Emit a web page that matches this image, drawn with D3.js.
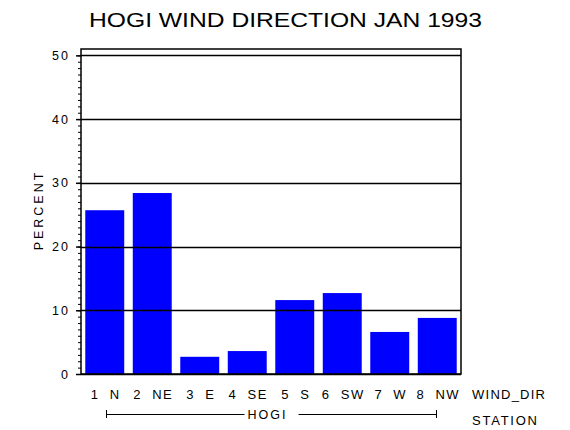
<!DOCTYPE html>
<html>
<head>
<meta charset="utf-8">
<script src="https://cdn.jsdelivr.net/npm/d3@7"></script>
<style>
  body { margin: 0; background: #fff; }
  text { font-family: "Liberation Sans", "DejaVu Sans", sans-serif; fill: #000; }
</style>
</head>
<body>
<div id="chart"></div>
<script>
// data
var dirs = ["1 N", "2 NE", "3 E", "4 SE", "5 S", "6 SW", "7 W", "8 NW"];
var percent = [25.7, 28.4, 2.7, 3.6, 11.6, 12.7, 6.6, 8.8];
var yTicks = [0, 10, 20, 30, 40, 50];
var station = "HOGI";
var title = "HOGI WIND DIRECTION JAN 1993";

var margin = {top: 49, right: 109, bottom: 56, left: 81},
    width = 570 - margin.left - margin.right,
    height = 430 - margin.top - margin.bottom;

var data = dirs.map(function(d, i) { return {label: d, value: percent[i]}; });

var x = d3.scaleBand()
    .domain(dirs)
    .range([0, width])
    .paddingInner(0.18)
    .paddingOuter(0.09);

var y = d3.scaleLinear()
    .domain([0, 51])
    .range([height, 0]);

var root = d3.select("#chart").append("svg")
    .attr("width", 570)
    .attr("height", 430);

root.append("text")
    .attr("x", 89)
    .attr("y", 27)
    .attr("textLength", 393)
    .attr("lengthAdjust", "spacingAndGlyphs")
    .style("font-size", "21px")
    .text(title);

var svg = root.append("g")
    .attr("transform", "translate(" + margin.left + "," + margin.top + ")");

// bars
svg.selectAll(".bars")
    .data(data)
  .enter().append("rect")
    .attr("class", "bars")
    .attr("x", function(d) { return x(d.label); })
    .attr("y", function(d) { return y(d.value); })
    .attr("width", x.bandwidth())
    .attr("height", function(d) { return height - y(d.value); })
    .attr("fill", "#0000ff");

// grid lines over the bars
svg.selectAll(".grid")
    .data(yTicks)
  .enter().append("line")
    .attr("x1", 0)
    .attr("x2", width)
    .attr("y1", function(d) { return Math.round(y(d)) + 0.5; })
    .attr("y2", function(d) { return Math.round(y(d)) + 0.5; })
    .attr("stroke", "#000")
    .attr("stroke-width", 1.3);

// frame
svg.append("rect")
    .attr("x", 0)
    .attr("y", 0)
    .attr("width", width)
    .attr("height", height)
    .attr("fill", "none")
    .attr("stroke", "#000")
    .attr("stroke-width", 1.5);

// minor ticks
svg.append("g")
    .call(d3.axisLeft(y).tickValues(d3.range(0, 51)).tickSize(3).tickFormat(""))
    .call(function(g) { g.select(".domain").remove(); });

// major ticks and labels
var yAxis = svg.append("g")
    .call(d3.axisLeft(y).tickValues(yTicks).tickSize(5).tickPadding(6))
    .call(function(g) { g.select(".domain").remove(); });
yAxis.selectAll("line").attr("stroke-width", 1.5);
yAxis.selectAll("text")
    .style("font-family", "\"Liberation Sans\", sans-serif")
    .style("font-size", "12.5px")
    .style("letter-spacing", "2px");

svg.selectAll(".tick line").attr("stroke", "#000");

// x labels
svg.selectAll(".xlab")
    .data(dirs)
  .enter().append("text")
    .attr("class", "xlab")
    .attr("x", function(d) { return x(d) + x.bandwidth() / 2 + 1; })
    .attr("y", height + 25)
    .attr("text-anchor", "middle")
    .attr("xml:space", "preserve")
    .style("font-size", "13px")
    .style("letter-spacing", "1.5px")
    .text(function(d) { return d.replace(" ", "  "); });

svg.append("text")
    .attr("x", 391)
    .attr("y", height + 25)
    .attr("textLength", 73)
    .style("font-size", "13px")
    .text("WIND_DIR");

svg.append("text")
    .attr("x", 391)
    .attr("y", height + 51)
    .attr("textLength", 65)
    .style("font-size", "13px")
    .text("STATION");

// station bracket spans the centres of the first and last bars
var bx0 = Math.round(x(dirs[0]) + x.bandwidth() / 2) + 1,
    bx1 = Math.round(x(dirs[dirs.length - 1]) + x.bandwidth() / 2),
    by = height + 40,
    mid = (bx0 + bx1) / 2;

svg.append("text")
    .attr("x", mid - 4)
    .attr("y", by + 5)
    .attr("text-anchor", "middle")
    .style("font-size", "12.5px")
    .style("letter-spacing", "2px")
    .text(station);

var br = svg.append("g").attr("stroke", "#000").attr("stroke-width", 1);
br.append("line").attr("x1", bx0).attr("x2", mid - 27).attr("y1", by + 0.5).attr("y2", by + 0.5);
br.append("line").attr("x1", mid + 27).attr("x2", bx1).attr("y1", by + 0.5).attr("y2", by + 0.5);
br.append("line").attr("x1", bx0 + 0.5).attr("x2", bx0 + 0.5).attr("y1", by - 4).attr("y2", by + 4);
br.append("line").attr("x1", bx1 - 0.5).attr("x2", bx1 - 0.5).attr("y1", by - 4).attr("y2", by + 4);

// y label
svg.append("text")
    .attr("transform", "translate(-38," + (height / 2 - 1.5) + ") rotate(-90)")
    .attr("text-anchor", "middle")
    .style("font-size", "12.5px")
    .style("letter-spacing", "3px")
    .text("PERCENT");
</script>
</body>
</html>
